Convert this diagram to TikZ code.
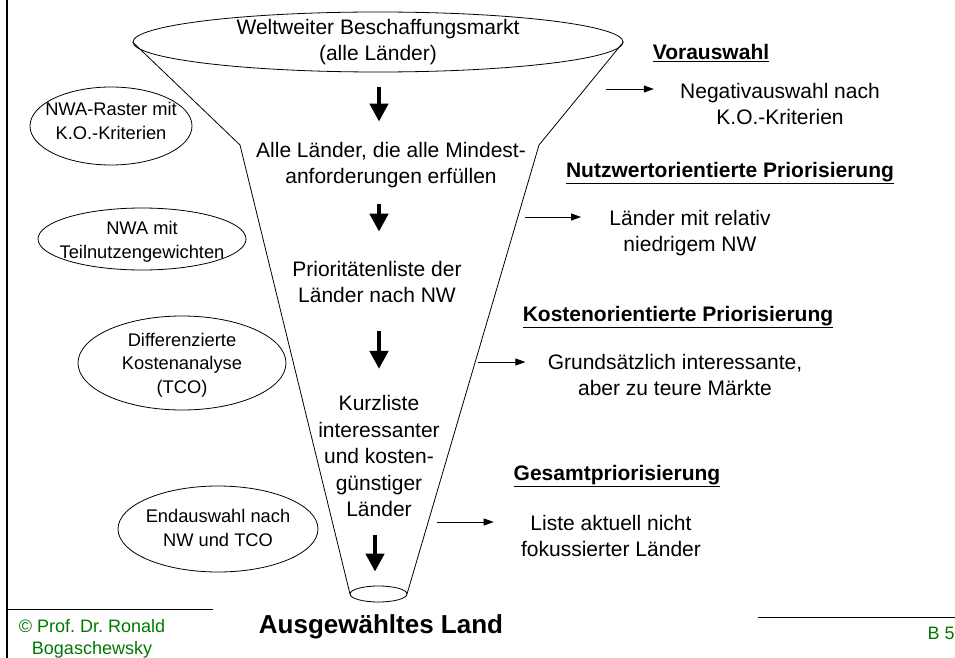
\documentclass[tikz,border=0pt]{standalone}
\usepackage{fontspec}
\setmainfont{Liberation Sans}
\usetikzlibrary{shapes.geometric,arrows.meta}
\definecolor{copygreen}{RGB}{0,120,0}
\frenchspacing

\begin{document}
\begin{tikzpicture}[x=1pt,y=-1pt,line width=0.8pt,
  txt/.style={align=center,inner sep=0pt,font=\fontsize{21}{26.5}\selectfont},
  head/.style={inner sep=0pt,font=\fontsize{21}{26}\selectfont\bfseries},
  method/.style={ellipse,draw,inner sep=0pt},
  mtxt/.style={align=center,inner sep=0pt,font=\fontsize{18.3}{23.5}\selectfont},
  downarrow/.style={line width=4.5pt,-{Triangle[width=18pt,length=18pt]}},
  sidearrow/.style={line width=0.9pt,-{Triangle[width=7pt,length=10pt]}},
  foot/.style={inner sep=0pt,text=copygreen,font=\fontsize{18}{22}\selectfont}]
\useasboundingbox (0,0) rectangle (955,658);
\draw[line width=2.5pt] (7,0) -- (7,658);
\draw (8,609) -- (213,609);
\draw (758,617) -- (955,617);

\node[method,minimum width=490pt,minimum height=60pt] (top) at (378,42) {};
\draw (top.west) -- (240,145) -- (350,594);
\draw (top.east) -- (539,145) -- (407,594);
\node[method,minimum width=57pt,minimum height=16pt] (bottom) at (378.5,594) {};

\node[txt] (markt) at (378,42) {Weltweiter Beschaffungsmarkt\\(alle Länder)};
\node[txt] (mindest) at (391,165) {Alle Länder, die alle Mindest-\\anforderungen erfüllen};
\node[txt] (prio) at (377,282) {Prioritätenliste der\\Länder nach NW};
\node[txt] (kurz) at (379,456) {Kurzliste\\interessanter\\und kosten-\\günstiger\\Länder};
\node[inner sep=0pt,font=\fontsize{26}{30}\selectfont\bfseries] (land) at (381,627) {Ausgewähltes Land};

\coordinate (mitte) at (379,0);
\coordinate (mitte2) at (375,0);
\draw[downarrow] ([yshift=-22pt]markt.south -| mitte) -- ([yshift=20pt]mindest.north -| mitte);
\draw[downarrow] ([yshift=-16pt]mindest.south -| mitte) -- ([yshift=29pt]prio.north -| mitte);
\draw[downarrow] ([yshift=-28pt]prio.south -| mitte) -- ([yshift=26pt]kurz.north -| mitte);
\draw[downarrow] ([yshift=-18pt]kurz.south -| mitte2) -- ([yshift=14pt]bottom.north -| mitte2);

\node[method,minimum width=162pt,minimum height=78pt] (ko) at (111,126) {};
\node[mtxt] at (111,121) {NWA-Raster mit\\K.O.-Kriterien};
\node[method,minimum width=208pt,minimum height=62pt] (gew) at (142,239) {};
\node[mtxt] at (142,242) {NWA mit\\Teilnutzengewichten};
\node[method,minimum width=208pt,minimum height=94pt] (tco) at (182,363) {};
\node[mtxt] at (182,365) {Differenzierte\\Kostenanalyse\\(TCO)};
\node[method,minimum width=200pt,minimum height=86pt] (end) at (218,529) {};
\node[mtxt] at (218,528) {Endauswahl nach\\NW und TCO};

\node[head] (vor) at (711,53) {\underline{Vorauswahl}};
\node[txt] (neg) at (780,104) {Negativauswahl nach\\K.O.-Kriterien};
\node[head] (nutz) at (730,173) {\underline{Nutzwertorientierte Priorisierung}};
\node[txt] (niedrig) at (690,233) {Länder mit relativ\\niedrigem NW};
\node[head] (kost) at (678,317) {\underline{Kostenorientierte Priorisierung}};
\node[txt] (teuer) at (675,375) {Grundsätzlich interessante,\\aber zu teure Märkte};
\node[head] (ges) at (617,476) {\underline{Gesamtpriorisierung}};
\node[txt] (liste) at (611,536) {Liste aktuell nicht\\fokussierter Länder};

\coordinate (s1) at (606,89);
\coordinate (s2) at (525,217);
\coordinate (s3) at (478,362);
\coordinate (s4) at (437,522);
\draw[sidearrow] (s1) -- ([xshift=-26pt]neg.west |- s1);
\draw[sidearrow] (s2) -- ([xshift=-28pt]niedrig.west |- s2);
\draw[sidearrow] (s3) -- ([xshift=-22pt]teuer.west |- s3);
\draw[sidearrow] (s4) -- ([xshift=-27pt]liste.west |- s4);

\node[foot,align=center] (autor) at (92,639) {© Prof. Dr. Ronald\\Bogaschewsky};
\node[foot,anchor=east] (folie) at (955,633) {B 5};
\end{tikzpicture}
\end{document}
